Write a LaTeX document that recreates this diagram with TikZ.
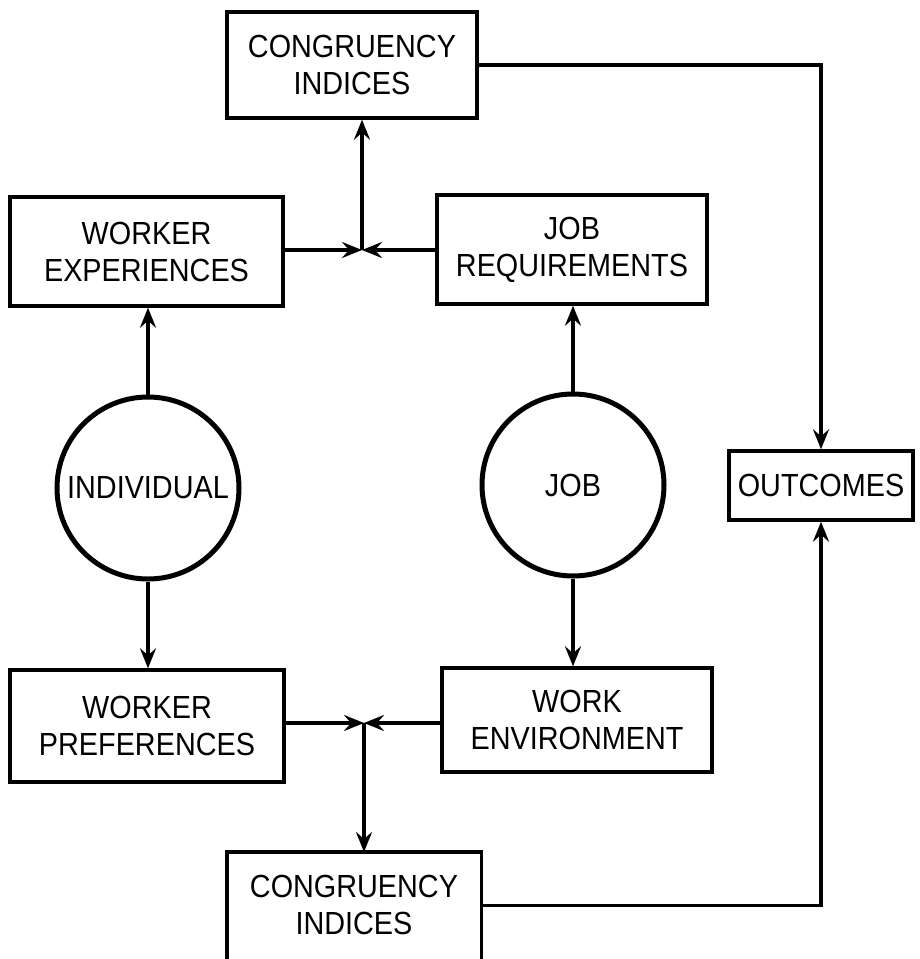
\documentclass[tikz,border=0pt]{standalone}
\usepackage{fontspec}
\setmainfont{Liberation Sans}[FakeStretch=0.9]
\usetikzlibrary{arrows.meta}
\begin{document}
\begin{tikzpicture}[x=1pt,y=-1pt,
  box/.style={draw, line width=3.4pt, align=center, inner sep=0pt, font=\fontsize{32}{37}\selectfont},
  txt/.style={align=center, inner sep=0pt, font=\fontsize{32}{37}\selectfont},
  circ/.style={draw, circle, line width=5pt, inner sep=0pt, minimum size=182pt, font=\fontsize{32}{37}\selectfont},
  arr/.style={line width=3.4pt, -{Stealth[length=20pt,width=16pt,inset=7pt]}},
  ln/.style={line width=3.4pt}]
\useasboundingbox (0,0) rectangle (920,959);
\clip (0,0) rectangle (920,959);
% boxes
\node[box, minimum width=250pt, minimum height=106pt] (ci1) at (352,65) {CONGRUENCY\\INDICES};
\node[box, minimum width=273pt, minimum height=109pt] (we) at (146.5,251.5) {WORKER\\EXPERIENCES};
\node[box, minimum width=270pt, minimum height=109pt] (jr) at (572,249.5) {JOB\\REQUIREMENTS};
\node[circ] (ind) at (148,488) {INDIVIDUAL};
\node[circ] (job) at (573,485) {JOB};
\node[box, minimum width=184pt, minimum height=69pt] (out) at (821,485.5) {OUTCOMES};
\node[box, minimum width=274pt, minimum height=112pt] (wp) at (147,726) {WORKER\\PREFERENCES};
\node[box, minimum width=270pt, minimum height=104pt] (wenv) at (577,720) {WORK\\ENVIRONMENT};
\node[txt, minimum width=254pt, minimum height=106pt, anchor=north] (ci2) at (354,852) {CONGRUENCY\\INDICES};
\draw[ln] ([yshift=-30pt]ci2.south west) -- (ci2.north west) -- (ci2.north east) -- ([yshift=-30pt]ci2.south east);
% junctions
\coordinate (j1) at (362,250);
\coordinate (j2) at (364,723);
% connectors
\draw[arr] (we.east |- j1) -- (j1);
\draw[arr] (jr.west |- j1) -- (j1);
\draw[arr] (j1) -- (j1 |- ci1.south);
\draw[arr] (ind.north) -- (ind.north |- we.south);
\draw[arr] (job.north) -- (job.north |- jr.south);
\draw[arr] (ind.south) -- (ind.south |- wp.north);
\draw[arr] (job.south) -- (job.south |- wenv.north);
\draw[arr] (wp.east |- j2) -- (j2);
\draw[arr] (wenv.west |- j2) -- (j2);
\draw[arr] (j2) -- (j2 |- ci2.north);
\draw[arr] (ci1.east) -| (out.north);
\draw[arr] (ci2.east) -| (out.south);
\end{tikzpicture}
\end{document}
